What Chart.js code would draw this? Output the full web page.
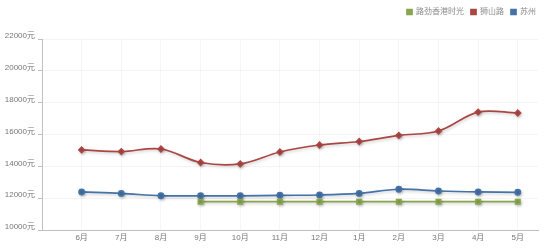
<!DOCTYPE html>
<html>
<head>
<meta charset="utf-8">
<script src="https://cdn.jsdelivr.net/npm/chart.js@4"></script>
<style>
html,body{margin:0;padding:0;background:#fff;}
#wrap{width:550px;height:249px;}
</style>
</head>
<body>
<div id="wrap"><canvas id="c" width="550" height="249"></canvas></div>
<script>
const months = ['6月','7月','8月','9月','10月','11月','12月','1月','2月','3月','4月','5月'];
const seriesNames = ['路劲香港时光','狮山路','苏州'];
const lujing = [null, null, null, 11780, 11780, 11780, 11780, 11780, 11780, 11780, 11780, 11780];
const shishan = [15030, 14930, 15090, 14240, 14150, 14900, 15340, 15560, 15940, 16220, 17410, 17350];
const suzhou = [12390, 12300, 12150, 12150, 12150, 12180, 12200, 12300, 12560, 12450, 12390, 12370];
const yTicks = [10000, 12000, 14000, 16000, 18000, 20000, 22000];

const FONT = "'Liberation Sans', 'Noto Sans CJK SC', sans-serif";
const toXY = arr => arr.map((v, i) => ({x: i, y: v}));

const shadowPlugin = {
  id: 'lineShadow',
  beforeDatasetDraw(chart) {
    const ctx = chart.ctx;
    ctx.save();
    ctx.shadowColor = 'rgba(0,0,0,0.2)';
    ctx.shadowBlur = 3;
    ctx.shadowOffsetX = 1;
    ctx.shadowOffsetY = 1.5;
  },
  afterDatasetDraw(chart) {
    chart.ctx.restore();
  }
};

new Chart(document.getElementById('c'), {
  type: 'line',
  data: {
    datasets: [
      {
        label: seriesNames[0], data: toXY(lujing),
        borderColor: '#89a54e', backgroundColor: '#89a54e',
        borderWidth: 1.7, pointStyle: 'rect', pointRadius: 3.1, pointHoverRadius: 3.1,
        tension: 0.35, order: 1
      },
      {
        label: seriesNames[1], data: toXY(shishan),
        borderColor: '#aa4643', backgroundColor: '#aa4643',
        borderWidth: 1.7, pointStyle: 'rectRot', pointRadius: 2.7, pointHoverRadius: 2.7,
        tension: 0.35, order: 2
      },
      {
        label: seriesNames[2], data: toXY(suzhou),
        borderColor: '#4572a7', backgroundColor: '#4572a7',
        borderWidth: 1.7, pointStyle: 'circle', pointRadius: 2.6, pointHoverRadius: 2.6,
        tension: 0.35, order: 3
      }
    ]
  },
  options: {
    responsive: false,
    animation: false,
    events: [],
    layout: { padding: { top: 1, right: 7, left: 0, bottom: 0 } },
    plugins: {
      legend: {
        display: true,
        position: 'top',
        align: 'end',
        labels: {
          boxWidth: 5, boxHeight: 5, padding: 7,
          color: '#8a8a8a',
          font: { family: FONT, size: 8 }
        }
      },
      subtitle: {
        display: true, text: '', weight: 500,
        font: { size: 1, lineHeight: 1 },
        padding: { top: 0, bottom: 12 }
      },
      tooltip: { enabled: false }
    },
    scales: {
      x: {
        type: 'linear',
        min: -1, max: 11.51,
        afterBuildTicks(s) { s.ticks = months.map((m, i) => ({ value: i })); },
        afterFit(s) { s.height = 19; },
        grid: { color: 'rgba(0,0,0,0.035)', drawTicks: false },
        border: { display: true, color: '#c0c0c0', width: 1 },
        ticks: {
          autoSkip: false, maxRotation: 0, padding: 3,
          color: '#777', font: { family: FONT, size: 8 },
          callback: v => months[v] !== undefined ? months[v] : ''
        }
      },
      y: {
        type: 'linear',
        min: 10000, max: 22000,
        afterBuildTicks(s) { s.ticks = yTicks.map(v => ({ value: v })); },
        afterFit(s) { s.width = 42; },
        grid: { color: 'rgba(0,0,0,0.045)', tickColor: '#c0c0c0', tickLength: 4 },
        border: { display: true, color: '#c0c0c0', width: 1 },
        ticks: {
          padding: 3, labelOffset: -3,
          color: '#777', font: { family: FONT, size: 8 },
          callback: v => v + '元'
        }
      },
      y2: {
        type: 'linear', position: 'right', display: true,
        grid: { display: false, drawTicks: false },
        border: { display: false },
        ticks: { display: false },
        afterFit(s) { s.width = 5; }
      }
    }
  },
  plugins: [shadowPlugin]
});
</script>
</body>
</html>
